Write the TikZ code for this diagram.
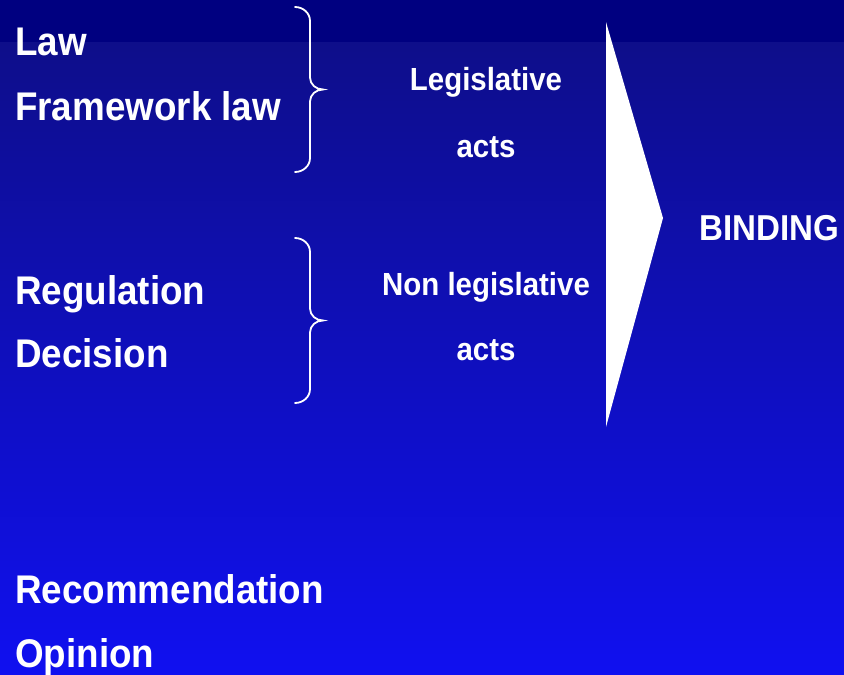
\documentclass[tikz,border=0pt]{standalone}
\usepackage{fontspec}
\setmainfont[FakeStretch=0.92]{Liberation Sans}
\definecolor{navytop}{HTML}{000080}
\definecolor{bluemid}{HTML}{0E0E8A}
\definecolor{bluebottom}{HTML}{1010F0}
\tikzset{
  actname/.style={white,inner sep=0,anchor=base west,font=\bfseries\fontsize{40}{48}\selectfont},
  actgroup/.style={white,inner sep=0,anchor=base,font=\bfseries\fontsize{32}{38}\selectfont},
  bracket/.style={white,line width=1.8pt,line cap=round}
}
\newcommand{\curlybrace}[3]{%
 \pgfmathsetmacro{\bmid}{(#2+#3)/2}%
 \draw[bracket] (#1,#2) to[out=0,in=90] (#1+15,#2-14) -- (#1+15,\bmid+12)
   to[out=-90,in=180] (#1+28,\bmid) to[out=180,in=90] (#1+15,\bmid-12)
   -- (#1+15,#3+14) to[out=-90,in=0] (#1,#3);%
}

\begin{document}
\begin{tikzpicture}[x=1pt,y=1pt]
   \useasboundingbox (0,0) rectangle (844,-675);
   \fill[navytop] (0,0) rectangle (844,-42);
   \shade[top color=bluemid,bottom color=bluebottom] (0,-42) rectangle (844,-675);
   % kinds of acts
   \node[actname] (law) at (15,-55) {Law};
   \node[actname] (framework) at (15,-120) {Framework law};
   \node[actname] (regulation) at (15,-304) {Regulation};
   \node[actname] (decision) at (15,-367) {Decision};
   \node[actname] (recommendation) at (15,-603) {Recommendation};
   \node[actname] (opinion) at (15,-667) {Opinion};
   % braces
   \curlybrace{295}{-7}{-172}
   \curlybrace{295}{-238}{-403}
   \node[actgroup] (legis) at (486,-90) {Legislative};
   \node[actgroup] (legisacts) at (486,-157) {acts};
   \node[actgroup] (nonlegis) at (486,-295) {Non legislative};
   \node[actgroup] (nonlegisacts) at (486,-360) {acts};
   % arrow
   \fill[white] (606,-22) -- (663,-218) -- (606,-427) -- cycle;
   \node[actgroup,anchor=base west,font=\bfseries\fontsize{36}{42}\selectfont] (binding) at (699,-240) {BINDING};
\end{tikzpicture}
\end{document}
